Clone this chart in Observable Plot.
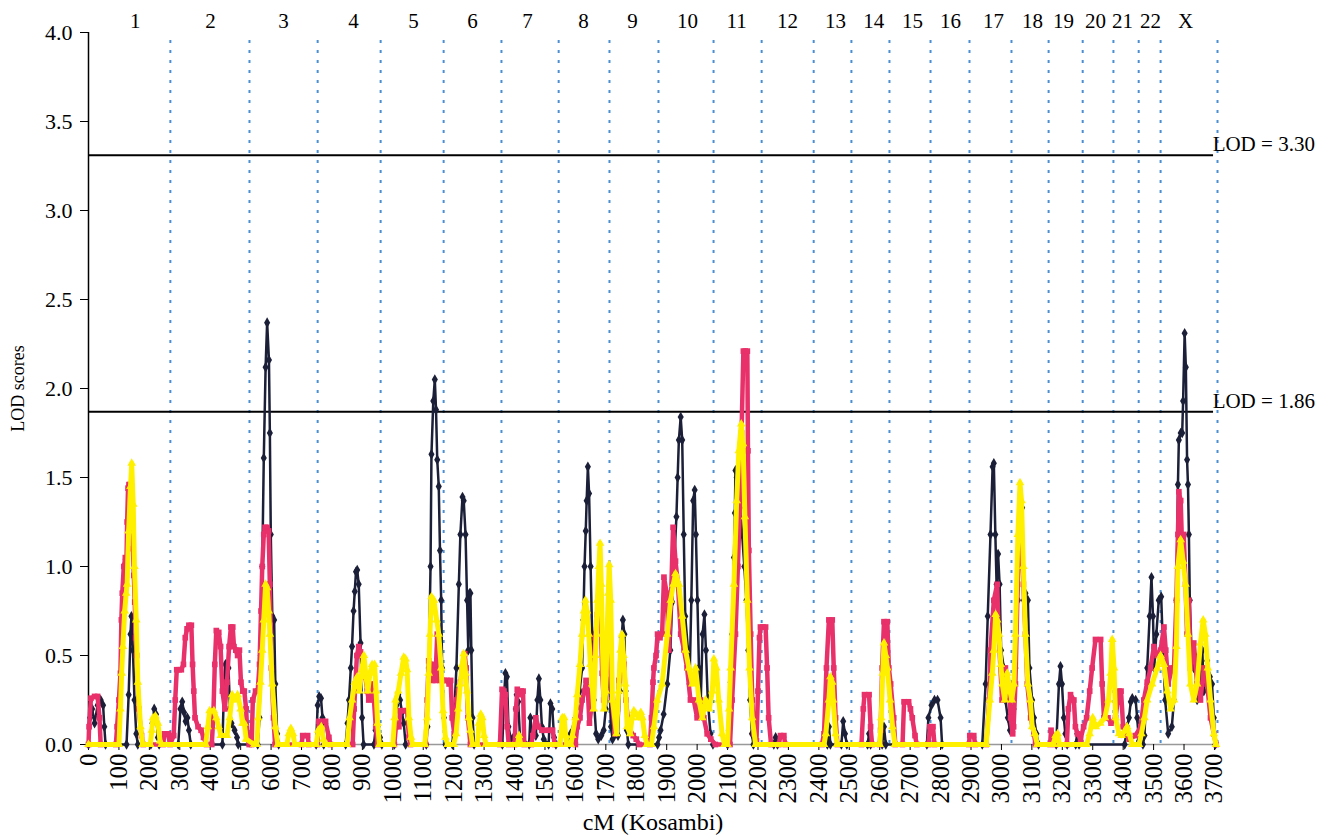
<!DOCTYPE html>
<html>
<head>
<meta charset="utf-8">
<script src="https://cdn.jsdelivr.net/npm/d3@7"></script>
<script src="https://cdn.jsdelivr.net/npm/@observablehq/plot@0.6"></script>
<style>
  html, body { margin: 0; padding: 0; background: #fff; }
  #chart { width: 1319px; height: 835px; }
</style>
</head>
<body>
<div id="chart"></div>
<script>
// Chromosome names, label positions (cM) and right-hand boundaries (cM)
const chromNames = ["1","2","3","4","5","6","7","8","9","10","11","12","13","14","15","16","17","18","19","20","21","22","X"];
const chromLabelPos = [154,401,641,871,1068,1262,1443,1627,1788,1968,2130,2297,2455,2580,2708,2833,2974,3102,3204,3309,3398,3490,3605];
const chromEnds = [269,529,753,960,1167,1357,1545,1712,1873,2054,2212,2383,2507,2632,2767,2895,3033,3155,3267,3368,3451,3523,3710];

// Axis ticks
const xTicks = [0,100,200,300,400,500,600,700,800,900,1000,1100,1200,1300,1400,1500,1600,1700,1800,1900,2000,2100,2200,2300,2400,2500,2600,2700,2800,2900,3000,3100,3200,3300,3400,3500,3600,3700];
const yTicks = [0,0.5,1,1.5,2,2.5,3,3.5,4];

// Significance thresholds
const lodLines = [3.31, 1.87];
const lodLabels = ["LOD = 3.30", "LOD = 1.86"];

// Series: [cM, LOD]
const blackLOD = [
[0,0],[5,0.15],[12,0.2],[20,0.12],[30,0.22],[40,0.25],[48,0.22],[52,0.1],[56,0],
[125,0],[132,0.28],[138,0.62],[141,0.72],[146,0.53],[151,0.25],[157,0.06],[162,0],
[205,0],[210,0.12],[216,0.2],[222,0.17],[228,0.04],[232,0],
[295,0],[302,0.2],[308,0.24],[314,0.18],[319,0.13],[325,0.15],[330,0.08],[336,0],
[440,0],[445,0.3],[450,0.45],[455,0.38],[460,0.43],[465,0.2],[470,0.12],[480,0.08],[488,0.04],[492,0],
[556,0],[562,0.15],[566,0.5],[571,1.0],[576,1.61],[582,2.12],[587,2.37],[593,2.16],[596,1.75],[599,1.18],[604,0.72],[610,0.7],[614,0.34],[620,0.06],[625,0],
[748,0],[753,0.22],[758,0.27],[764,0.26],[769,0.15],[773,0],
[845,0],[851,0.12],[856,0.25],[862,0.43],[866,0.55],[871,0.75],[875,0.86],[879,0.97],[883,0.98],[888,0.9],[894,0.57],[899,0.15],[904,0],
[938,0],[943,0.08],[950,0.1],[958,0.04],[964,0],
[1005,0],[1012,0.22],[1018,0.28],[1024,0.25],[1030,0.18],[1036,0.12],[1042,0],
[1110,0],[1114,0.1],[1118,0.43],[1124,1.0],[1127,1.63],[1133,1.93],[1138,2.05],[1142,1.88],[1146,1.6],[1151,1.45],[1155,1.09],[1159,0.81],[1162,0.43],[1168,0.15],[1173,0],
[1196,0],[1201,0.15],[1209,0.43],[1217,0.9],[1222,1.18],[1229,1.39],[1233,1.37],[1239,1.18],[1244,0.81],[1248,0.53],[1252,0.85],[1255,0.85],[1258,0.53],[1262,0.15],[1267,0],
[1360,0],[1365,0.25],[1370,0.4],[1375,0.38],[1380,0.1],[1388,0.03],[1400,0.05],[1404,0.2],[1407,0.28],[1412,0.24],[1418,0.04],[1448,0],[1452,0.15],[1458,0.05],[1470,0.05],[1475,0.25],[1480,0.37],[1485,0.25],[1490,0.1],[1496,0.03],[1512,0],[1518,0.23],[1524,0.2],[1530,0.04],[1536,0],
[1580,0],[1584,0.06],[1600,0.15],[1606,0.21],[1614,0.3],[1622,0.43],[1626,0.7],[1630,1.0],[1634,1.2],[1637,1.37],[1641,1.56],[1645,1.41],[1650,1.0],[1655,0.62],[1661,0.25],[1668,0.06],[1675,0.03],[1685,0.05],[1693,0.08],[1700,0.2],[1706,0.36],[1712,0.33],[1717,0.1],[1722,0.03],[1740,0.05],[1746,0.3],[1752,0.6],[1756,0.7],[1761,0.62],[1765,0.3],[1769,0.08],[1774,0],
[1870,0],[1875,0.04],[1880,0.08],[1890,0.17],[1902,0.34],[1912,0.53],[1918,0.8],[1924,1.0],[1932,1.28],[1936,1.5],[1940,1.71],[1946,1.84],[1951,1.71],[1956,1.18],[1961,0.72],[1970,0.53],[1975,0.34],[1981,0.81],[1987,1.37],[1992,1.43],[1996,1.18],[2001,0.81],[2006,0.43],[2012,0.25],[2018,0.62],[2024,0.73],[2029,0.53],[2035,0.25],[2044,0.06],[2052,0],
[2100,0],[2104,0.08],[2110,0.35],[2115,0.62],[2121,1.05],[2124,1.3],[2126,1.54],[2130,1.5],[2134,1.45],[2141,1.33],[2148,1.18],[2155,1.0],[2162,0.81],[2168,0.53],[2174,0.25],[2180,0.06],[2185,0],
[2252,0],[2258,0.04],[2264,0],
[2428,0],[2433,0.1],[2438,0],[2474,0],[2480,0.13],[2486,0.06],[2492,0],
[2560,0],[2565,0.06],[2570,0],[2608,0],[2614,0.1],[2620,0],
[2755,0],[2760,0.15],[2770,0.22],[2780,0.25],[2790,0.25],[2800,0.15],[2805,0],
[2937,0],[2948,0.34],[2955,0.72],[2964,1.18],[2971,1.56],[2975,1.58],[2980,1.18],[2984,0.9],[2989,1.07],[2994,0.9],[2999,0.53],[3008,0.43],[3013,0.25],[3021,0.15],[3028,0.08],[3033,0.1],[3040,0.2],[3046,0.43],[3054,0.81],[3063,1.31],[3068,1.33],[3074,0.81],[3079,0.85],[3087,0.81],[3092,0.43],[3101,0.25],[3107,0.15],[3115,0.06],[3122,0],
[3180,0],[3189,0.34],[3194,0.44],[3199,0.34],[3205,0.15],[3210,0.06],[3216,0],
[3244,0],[3249,0.06],[3255,0],
[3405,0],[3413,0.1],[3419,0.15],[3425,0.24],[3430,0.26],[3441,0.25],[3446,0.15],[3452,0.02],[3465,0],
[3470,0.05],[3479,0.43],[3487,0.72],[3493,0.94],[3498,0.72],[3502,0.43],[3509,0.62],[3517,0.81],[3525,0.83],[3531,0.53],[3538,0.25],[3548,0.06],[3560,0.1],[3567,0.25],[3575,0.81],[3580,1.46],[3583,1.71],[3589,1.75],[3594,1.75],[3597,1.93],[3602,2.31],[3606,2.12],[3610,1.6],[3613,1.46],[3616,1.18],[3619,0.81],[3625,0.51],[3632,0.43],[3638,0.49],[3643,0.25],[3654,0.32],[3660,0.53],[3665,0.3],[3676,0.47],[3685,0.38],[3692,0.34],[3698,0.15],[3703,0]
];

const pinkLOD = [
[0,0],[2,0.1],[8,0.26],[20,0.27],[30,0.27],[36,0.15],[40,0],
[90,0],[94,0.1],[100,0.25],[105,0.4],[108,0.7],[111,0.85],[116,1.0],[121,1.05],[124,0.95],[127,1.25],[130,1.44],[133,1.46],[136,1.46],[140,1.35],[143,1.2],[146,1.1],[149,0.95],[152,0.8],[155,0.6],[158,0.5],[165,0.2],[174,0.05],[180,0],
[245,0],[250,0.06],[262,0.06],[268,0],
[280,0.05],[285,0.25],[290,0.42],[298,0.42],[305,0.42],[312,0.45],[318,0.6],[324,0.65],[330,0.67],[338,0.67],[342,0.45],[346,0.3],[350,0.15],[360,0.1],[370,0.08],[378,0.04],[388,0],
[405,0],[410,0.15],[415,0.45],[420,0.64],[428,0.63],[434,0.55],[440,0.3],[448,0.2],[455,0.35],[462,0.55],[468,0.66],[474,0.66],[478,0.55],[484,0.53],[490,0.5],[496,0.53],[501,0.35],[507,0.3],[512,0.3],[518,0.2],[522,0.05],[528,0],
[536,0],[540,0.25],[549,0.3],[556,0.3],[562,0.45],[567,0.75],[571,1.0],[576,1.18],[580,1.22],[587,1.22],[592,1.2],[596,0.9],[601,0.43],[608,0.15],[613,0],
[700,0],[704,0.05],[720,0.05],[724,0],
[752,0],[757,0.13],[770,0.13],[779,0.13],[790,0.04],[795,0],
[868,0],[873,0.2],[877,0.34],[882,0.5],[888,0.55],[894,0.52],[899,0.5],[905,0.45],[910,0.38],[916,0.3],[921,0.25],[927,0.34],[933,0.3],[938,0.25],[944,0.1],[950,0],
[1005,0],[1010,0.1],[1020,0.1],[1025,0.19],[1040,0.19],[1047,0.19],[1053,0.04],[1058,0],
[1108,0],[1113,0.25],[1118,0.47],[1122,0.45],[1127,0.42],[1131,0.36],[1135,0.45],[1140,0.36],[1146,0.62],[1150,0.45],[1155,0.36],[1162,0.36],[1170,0.36],[1178,0.36],[1185,0.34],[1190,0.36],[1195,0.15],[1202,0.06],[1210,0.25],[1216,0.3],[1222,0.35],[1228,0.43],[1236,0.51],[1241,0.43],[1247,0.15],[1255,0],
[1352,0],[1359,0.31],[1365,0.3],[1370,0.28],[1376,0.1],[1381,0],[1400,0],[1405,0.2],[1409,0.31],[1416,0.28],[1422,0.3],[1428,0.3],[1432,0],[1455,0],[1460,0.05],[1470,0.15],[1478,0.1],[1490,0.08],[1500,0.08],[1515,0.08],[1525,0.08],[1532,0],
[1600,0],[1606,0.1],[1615,0.15],[1622,0.25],[1630,0.3],[1635,0.36],[1641,0.3],[1646,0.12],[1652,0.2],[1659,0.43],[1665,0.6],[1672,0.73],[1678,0.7],[1683,0.72],[1688,0.4],[1693,0.25],[1700,0.3],[1706,0.62],[1710,0.7],[1714,0.55],[1720,0.25],[1730,0.06],[1738,0.2],[1743,0.36],[1749,0.45],[1755,0.51],[1760,0.45],[1766,0.25],[1775,0.1],[1790,0.05],[1800,0.03],[1810,0],
[1845,0],[1850,0.15],[1855,0.35],[1858,0.43],[1865,0.5],[1870,0.62],[1878,0.6],[1885,0.62],[1891,0.94],[1900,0.85],[1907,0.53],[1914,0.81],[1921,1.22],[1929,1.03],[1937,0.9],[1946,0.62],[1957,0.53],[1967,0.43],[1978,0.25],[1989,0.25],[2000,0.15],[2011,0.25],[2022,0.15],[2033,0.06],[2045,0.03],[2060,0],
[2108,0],[2115,0.25],[2126,0.62],[2134,1.0],[2141,1.37],[2146,1.75],[2152,2.21],[2158,2.21],[2165,2.21],[2167,1.65],[2170,1.09],[2176,0.62],[2181,0.25],[2187,0.06],[2195,0.02],[2200,0.3],[2205,0.6],[2208,0.66],[2216,0.66],[2225,0.66],[2230,0.43],[2235,0.15],[2243,0],
[2268,0],[2274,0.05],[2285,0.05],[2290,0],
[2410,0],[2417,0.06],[2425,0.43],[2433,0.7],[2444,0.7],[2449,0.43],[2455,0.15],[2461,0],
[2540,0],[2546,0.2],[2550,0.28],[2565,0.28],[2570,0.1],[2575,0],
[2600,0],[2603,0.08],[2608,0.43],[2614,0.69],[2625,0.69],[2630,0.43],[2636,0.34],[2646,0.15],[2651,0],
[2675,0],[2680,0.24],[2695,0.24],[2701,0.2],[2707,0.15],[2716,0.05],[2722,0],
[2760,0],[2765,0.1],[2775,0.1],[2780,0],[2893,0],[2896,0.05],[2909,0.05],[2914,0],
[2950,0],[2960,0.25],[2964,0.53],[2975,0.81],[2986,0.9],[2991,0.62],[3002,0.25],[3013,0.43],[3024,0.34],[3030,0.15],[3037,0.06],[3040,0.1],[3046,0.34],[3057,1.18],[3063,1.28],[3072,0.9],[3079,0.62],[3085,0.34],[3096,0.15],[3107,0.06],[3112,0],
[3160,0],[3163,0.08],[3172,0.04],[3178,0],[3215,0],[3220,0.2],[3227,0.28],[3238,0.25],[3243,0.1],[3250,0.06],[3260,0.03],[3270,0.1],[3280,0.15],[3290,0.3],[3298,0.43],[3309,0.59],[3326,0.59],[3331,0.34],[3337,0.15],[3350,0.15],[3360,0.12],[3375,0.15],[3386,0.3],[3393,0.3],[3400,0.1],[3410,0.06],[3420,0.03],[3440,0.05],[3458,0.1],[3468,0.25],[3479,0.35],[3490,0.43],[3501,0.55],[3512,0.5],[3523,0.53],[3534,0.66],[3540,0.53],[3548,0.34],[3560,0.43],[3567,0.43],[3575,0.81],[3580,1.18],[3583,1.42],[3589,1.37],[3594,1.09],[3599,1.18],[3605,0.9],[3610,0.62],[3616,0.81],[3621,0.43],[3632,0.57],[3643,0.34],[3654,0.25],[3665,0.43],[3676,0.34],[3687,0.15],[3698,0.06],[3705,0]
];

const yellowLOD = [
[0,0],[100,0],[105,0.2],[109,0.4],[113,0.55],[119,0.75],[124,0.85],[127,0.9],[132,1.2],[138,1.45],[142,1.58],[147,1.35],[151,1.0],[157,0.7],[162,0.35],[171,0.1],[178,0],
[203,0],[208,0.08],[212,0.15],[220,0.16],[228,0.12],[235,0.02],[240,0],
[385,0],[392,0.1],[398,0.19],[412,0.19],[420,0.15],[428,0.1],[435,0.05],[455,0.05],[464,0.15],[472,0.28],[480,0.25],[490,0.28],[500,0.2],[506,0.12],[512,0.12],[518,0.03],[545,0],
[553,0],[558,0.15],[565,0.35],[571,0.53],[576,0.7],[582,0.9],[587,0.88],[592,0.75],[596,0.62],[604,0.34],[614,0.1],[622,0],[652,0],[658,0.06],[665,0.09],[672,0.06],[678,0],
[748,0],[755,0.08],[765,0.1],[772,0.03],[776,0],
[850,0],[858,0.15],[866,0.25],[875,0.35],[883,0.38],[890,0.3],[898,0.42],[905,0.5],[912,0.38],[918,0.3],[925,0.4],[932,0.45],[940,0.45],[945,0.3],[950,0.12],[956,0],
[1000,0],[1006,0.15],[1009,0.25],[1018,0.3],[1027,0.4],[1036,0.49],[1042,0.48],[1047,0.42],[1053,0.15],[1060,0.04],[1065,0],
[1105,0],[1113,0.15],[1118,0.4],[1122,0.62],[1127,0.83],[1135,0.81],[1144,0.7],[1151,0.62],[1159,0.43],[1165,0.19],[1173,0.04],[1180,0],
[1200,0],[1208,0.06],[1215,0.2],[1222,0.34],[1228,0.45],[1233,0.51],[1239,0.4],[1244,0.3],[1250,0.15],[1255,0.08],[1262,0],[1278,0],[1283,0.12],[1289,0.17],[1294,0.15],[1300,0.05],[1306,0],
[1410,0],[1415,0.05],[1420,0],[1550,0],[1557,0.15],[1563,0.15],[1568,0.05],[1572,0],
[1585,0],[1590,0.05],[1600,0.15],[1606,0.28],[1615,0.45],[1622,0.62],[1628,0.75],[1633,0.81],[1638,0.75],[1644,0.62],[1649,0.45],[1655,0.34],[1660,0.2],[1666,0.5],[1672,0.81],[1677,1.0],[1681,1.13],[1685,0.9],[1688,0.62],[1694,0.2],[1700,0.3],[1704,0.62],[1708,0.85],[1711,1.01],[1716,0.81],[1722,0.25],[1735,0.06],[1742,0.3],[1748,0.53],[1753,0.62],[1758,0.5],[1764,0.34],[1770,0.1],[1780,0.06],[1786,0.15],[1792,0.19],[1800,0.17],[1808,0.15],[1815,0.18],[1820,0.15],[1828,0.05],[1835,0],
[1850,0],[1858,0.1],[1869,0.25],[1885,0.34],[1902,0.62],[1913,0.81],[1922,0.9],[1929,0.96],[1940,0.9],[1951,0.72],[1962,0.53],[1973,0.43],[1984,0.34],[1995,0.43],[2006,0.25],[2017,0.15],[2028,0.25],[2040,0.2],[2050,0.3],[2055,0.48],[2063,0.43],[2071,0.25],[2082,0.06],[2090,0],
[2100,0],[2105,0.2],[2110,0.43],[2121,0.9],[2130,1.37],[2137,1.65],[2145,1.8],[2151,1.69],[2157,1.28],[2165,0.81],[2172,0.43],[2181,0.15],[2192,0],
[2417,0],[2423,0.06],[2433,0.25],[2438,0.38],[2444,0.35],[2447,0.25],[2455,0.06],[2460,0],
[2600,0],[2605,0.15],[2610,0.4],[2614,0.57],[2620,0.5],[2625,0.43],[2634,0.25],[2642,0.1],[2650,0],
[2950,0],[2962,0.25],[2970,0.4],[2975,0.53],[2981,0.73],[2986,0.7],[2992,0.62],[2998,0.45],[3003,0.34],[3011,0.25],[3019,0.4],[3028,0.3],[3034,0.25],[3041,0.34],[3046,0.62],[3054,1.18],[3061,1.47],[3066,1.37],[3072,1.0],[3079,0.62],[3087,0.34],[3095,0.25],[3101,0.1],[3110,0.06],[3118,0],
[3170,0],[3178,0.05],[3185,0.06],[3190,0],[3280,0],[3290,0.06],[3300,0.15],[3310,0.1],[3325,0.12],[3340,0.15],[3352,0.25],[3359,0.4],[3364,0.59],[3370,0.43],[3375,0.15],[3386,0.06],[3395,0.05],[3413,0.1],[3420,0.06],[3430,0],
[3452,0],[3460,0.06],[3470,0.15],[3479,0.25],[3495,0.34],[3512,0.43],[3523,0.5],[3534,0.45],[3545,0.3],[3556,0.2],[3567,0.25],[3575,0.55],[3580,1.0],[3589,1.15],[3597,1.03],[3605,0.9],[3613,0.62],[3621,0.34],[3632,0.25],[3643,0.34],[3654,0.57],[3663,0.7],[3670,0.62],[3678,0.43],[3687,0.25],[3698,0.06],[3705,0]
];

const chroms = chromNames.map((name, i) => ({name, pos: chromLabelPos[i]}));
const lods = lodLines.map((v, i) => ({v, label: lodLabels[i]}));

const BLACK = "#1b1f38", PINK = "#e8306a", YELLOW = "#fff000", DOTBLUE = "#4a8fd4";
const serif = "Liberation Serif, Times New Roman, serif";

const chart = Plot.plot({
  width: 1319,
  height: 835,
  marginLeft: 88,
  marginRight: 102,
  marginTop: 32,
  marginBottom: 91,
  x: {domain: [0, 3710]},
  y: {domain: [0, 4]},
  style: {fontFamily: serif, fontSize: "20px", background: "white", color: "black"},
  marks: [
    Plot.ruleX(chromEnds, {y1: 3.955, y2: 0, stroke: DOTBLUE, strokeWidth: 2, strokeDasharray: "3,7"}),
    Plot.ruleY([0], {stroke: "#999", strokeWidth: 1.5}),
    Plot.ruleX([0], {y1: 0, y2: 4, stroke: "black", strokeWidth: 1.5}),
    Plot.axisY({ticks: yTicks, tickFormat: d3.format(".1f"), tickSize: 8, tickPadding: 8, fontSize: 22, label: null}),
    Plot.axisX({ticks: xTicks, tickFormat: d => String(d), tickRotate: -90, tickSize: 6, tickPadding: 3, fontSize: 25, label: null}),
    Plot.ruleY(lods, {y: "v", x1: 0, x2: 3697, stroke: "black", strokeWidth: 2}),
    Plot.text(lods, {x: 3694, y: "v", text: "label", textAnchor: "start", lineAnchor: "bottom", dy: -4, fontSize: 21}),
    Plot.text(chroms, {x: "pos", y: 4, text: "name", dy: -11, lineAnchor: "middle", fontSize: 21}),
    Plot.text(["LOD scores"], {frameAnchor: "left", dx: -70, rotate: -90, textAnchor: "middle", lineAnchor: "middle", text: d => d, fontSize: 18}),
    Plot.text(["cM (Kosambi)"], {frameAnchor: "bottom", dy: 85, lineAnchor: "bottom", text: d => d, fontSize: 24}),
    // Black series
    Plot.line(blackLOD, {x: d => d[0], y: d => d[1], stroke: BLACK, strokeWidth: 2.5, curve: "linear"}),
    Plot.dot(blackLOD, {x: d => d[0], y: d => d[1], symbol: "diamond", r: 3.2, fill: BLACK}),
    // Pink series
    Plot.line(pinkLOD, {x: d => d[0], y: d => d[1], stroke: PINK, strokeWidth: 4.5, curve: "linear"}),
    Plot.dot(pinkLOD, {x: d => d[0], y: d => d[1], symbol: "square", r: 3.2, fill: PINK}),
    // Yellow series
    Plot.line(yellowLOD, {x: d => d[0], y: d => d[1], stroke: YELLOW, strokeWidth: 5, curve: "linear"}),
    Plot.dot(yellowLOD, {x: d => d[0], y: d => d[1], symbol: "triangle", r: 3.2, fill: YELLOW})
  ]
});
document.getElementById("chart").appendChild(chart);
</script>
</body>
</html>
